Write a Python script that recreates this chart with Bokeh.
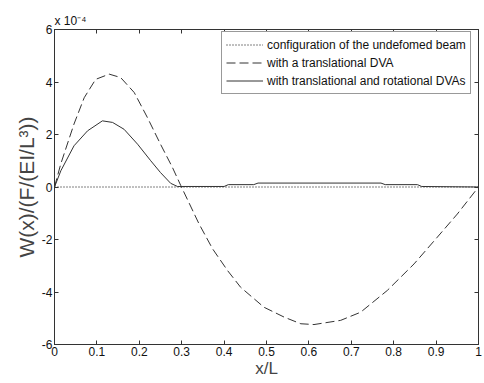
from bokeh.plotting import figure
from bokeh.models import FixedTicker, LinearAxis, Legend, LegendItem, Range1d
from bokeh.embed import file_html
from bokeh.resources import INLINE

# ---- data (W values in units of 1e-4) ----
x_ticks = [0, 0.1, 0.2, 0.3, 0.4, 0.5, 0.6, 0.7, 0.8, 0.9, 1]
y_ticks = [-6, -4, -2, 0, 2, 4, 6]
y_scale_text = "x 10⁻⁴"

x_undeformed = [0.0, 1.0]
w_undeformed = [0.0, 0.0]

x_trans = [0, 0.015, 0.046, 0.07, 0.097, 0.129, 0.156, 0.188, 0.219, 0.25, 0.278, 0.298,
           0.341, 0.373, 0.408, 0.439, 0.494, 0.542, 0.581, 0.612, 0.675, 0.722, 0.785,
           0.848, 0.903, 0.95, 1.0]
w_trans = [0, 0.89, 2.4, 3.4, 4.1, 4.3, 4.17, 3.6, 2.65, 1.63, 0.75, 0.05,
           -1.41, -2.36, -3.18, -3.82, -4.58, -4.96, -5.21, -5.24, -5.08, -4.77, -3.94,
           -2.93, -1.91, -1.03, 0]

x_rot = [0, 0.015, 0.046, 0.078, 0.113, 0.137, 0.164, 0.196, 0.227, 0.25, 0.274, 0.29,
         0.40, 0.41, 0.47, 0.48, 0.77, 0.78, 0.856, 0.866, 1.0]
w_rot = [0, 0.62, 1.57, 2.14, 2.52, 2.46, 2.2, 1.63, 1.0, 0.55, 0.14, 0.02,
         0.02, 0.09, 0.09, 0.15, 0.15, 0.09, 0.09, 0.02, 0.0]

legend_labels = ["configuration of the undefomed beam",
                 "with a translational DVA",
                 "with translational and rotational DVAs"]

FONT = "Liberation Sans"
AX = "#333333"
LC = "#333333"

p = figure(width=484, height=383, output_backend="svg", toolbar_location=None,
           x_range=Range1d(0, 1), y_range=Range1d(-6, 6),
           min_border_left=54, min_border_right=6, min_border_top=29, min_border_bottom=39,
           x_axis_label="x/L", y_axis_label="W(x)/(F/(EI/L³))",
           title=y_scale_text)
p.title.align = "left"
p.title.text_font = FONT
p.title.text_font_size = "12px"
p.title.text_font_style = "normal"
p.title.text_color = "#111111"
p.title.standoff = 3
p.title.offset = 0
p.xgrid.visible = False
p.ygrid.visible = False
p.outline_line_color = AX
p.background_fill_color = "white"
p.border_fill_color = "white"

r0 = p.line(x_undeformed, w_undeformed, line_color="#000000", line_width=1, line_dash="1 2")
r1 = p.line(x_trans, w_trans, line_color=LC, line_width=1, line_dash="9 4")
r2 = p.line(x_rot, w_rot, line_color=LC, line_width=1)

def style_axis(ax, ticks, show_labels):
    ax.ticker = FixedTicker(ticks=ticks)
    ax.minor_tick_line_color = None
    ax.major_tick_in = 4
    ax.major_tick_out = 0
    ax.axis_line_color = AX
    ax.major_tick_line_color = AX
    if show_labels:
        ax.major_label_text_font = FONT
        ax.major_label_text_font_size = "12px"
        ax.major_label_text_color = "#111111"
        ax.major_label_standoff = 2
        ax.major_label_overrides = {t: (str(t) if isinstance(t, int) else ("%g" % t)) for t in ticks}
    else:
        ax.major_label_text_font_size = "1px"
        ax.major_label_text_color = None
        ax.major_label_standoff = 0

xa = p.xaxis[0]
ya = p.yaxis[0]
style_axis(xa, x_ticks, True)
style_axis(ya, y_ticks, True)
xa.axis_label_text_font = FONT
xa.axis_label_text_font_size = "17px"
xa.axis_label_text_font_style = "normal"
xa.axis_label_standoff = 0
ya.axis_label_text_font = FONT
ya.axis_label_text_font_size = "21px"
ya.axis_label_text_font_style = "normal"
ya.axis_label_standoff = 1

top = LinearAxis()
style_axis(top, x_ticks, False)
p.add_layout(top, "above")
right = LinearAxis()
style_axis(right, y_ticks, False)
p.add_layout(right, "right")

legend = Legend(items=[LegendItem(label=legend_labels[0], renderers=[r0]),
                       LegendItem(label=legend_labels[1], renderers=[r1]),
                       LegendItem(label=legend_labels[2], renderers=[r2])],
                location=(167, 250), margin=0, padding=4, spacing=1,
                glyph_width=37, glyph_height=17, label_height=17, label_standoff=4,
                label_text_font=FONT, label_text_font_size="12px",
                label_text_color="#111111",
                border_line_color=AX, border_line_width=1,
                background_fill_color="white", background_fill_alpha=1)
p.add_layout(legend)

open("out.html", "w").write(file_html(p, INLINE))
